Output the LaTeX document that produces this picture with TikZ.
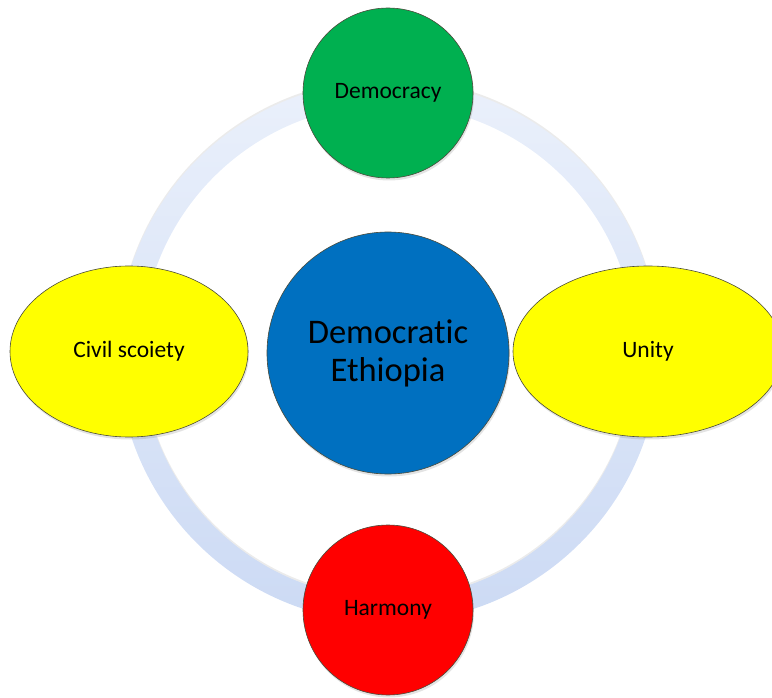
\documentclass[tikz,border=0pt]{standalone}
\usepackage{fontspec}
\setmainfont{Carlito}[RawFeature={-liga}]
\usetikzlibrary{shapes.geometric,shadows}
\definecolor{dgreen}{HTML}{00B050}
\definecolor{dblue}{HTML}{0070C0}
\definecolor{dyellow}{HTML}{FFFF00}
\definecolor{dred}{HTML}{FF0000}
\definecolor{ringtop}{HTML}{EAF0FB}
\definecolor{ringbot}{HTML}{CCDAF4}
\definecolor{edge}{HTML}{4A4A3A}
\begin{document}
\begin{tikzpicture}[x=1pt,y=-1pt,
  blob/.style={draw=edge,line width=0.6pt,inner sep=0pt,align=center,
    drop shadow={opacity=0.22,shadow xshift=1pt,shadow yshift=-2.5pt}},
  sat/.style={blob,circle,minimum size=170pt,font=\fontsize{23.5}{27}\selectfont},
  oval/.style={blob,ellipse,minimum height=171pt,fill=dyellow,font=\fontsize{23.5}{27}\selectfont},
  hub/.style={blob,circle,minimum size=242pt,fill=dblue,font=\fontsize{34.5}{38}\selectfont}]
\useasboundingbox (0,0) rectangle (772,698);
\clip (0,0) rectangle (772,698);
\coordinate (c) at (388.5,351.5);
% ring shadow
\path[fill=black,opacity=0.08,even odd rule] ([yshift=2pt]c) circle (271pt) circle (247pt);
% ring
\path[top color=ringtop,bottom color=ringbot,even odd rule] (c) circle (271pt) circle (247pt);
\node[hub] (hub) at (388,353) {Democratic\\Ethiopia};
\node[sat,fill=dgreen] (dem) at (388,93) {Democracy};
\node[sat,fill=dred] (har) at (388,610) {Harmony};
\node[oval,minimum width=238pt] (civ) at (129,351.5) {Civil scoiety};
\node[oval,minimum width=270pt] (uni) at (648,351.5) {Unity};
\end{tikzpicture}
\end{document}
